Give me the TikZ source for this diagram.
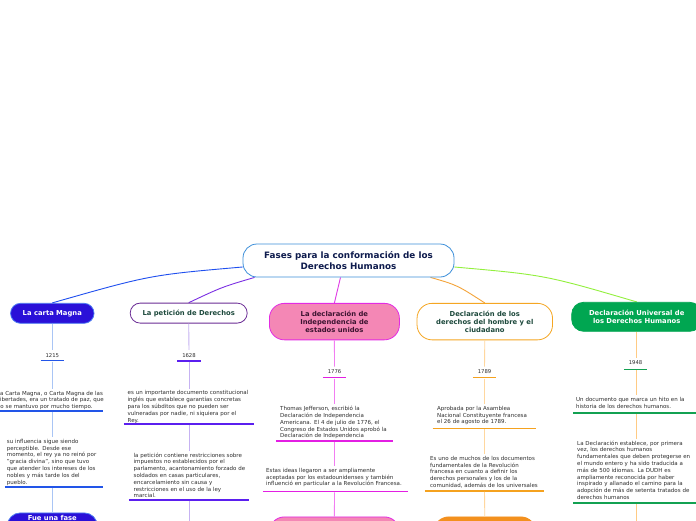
\documentclass[tikz,border=0pt]{standalone}
\usepackage{fontspec}
\setmainfont{DejaVu Sans}
\definecolor{rootBorder}{HTML}{3C8FDA}
\definecolor{rootText}{HTML}{0E1B4D}
\definecolor{cBlue}{HTML}{1F4FEF}
\definecolor{cartaFill}{HTML}{2A10D8}
\definecolor{cartaBorder}{HTML}{4B7BF2}
\definecolor{vBlue}{HTML}{A9C5F5}
\definecolor{bBlue}{HTML}{2255E8}
\definecolor{cPurple}{HTML}{7B2FE3}
\definecolor{petBorder}{HTML}{6B2C95}
\definecolor{darkGreen}{HTML}{1E4A3D}
\definecolor{vPurple}{HTML}{C6B2F2}
\definecolor{bPurple}{HTML}{5B1FEF}
\definecolor{cMagenta}{HTML}{E03BE6}
\definecolor{indFill}{HTML}{F487B5}
\definecolor{indBorder}{HTML}{E32BE3}
\definecolor{indText}{HTML}{3D1431}
\definecolor{vMagenta}{HTML}{F27DF2}
\definecolor{bMagenta}{HTML}{E31FE3}
\definecolor{cOrange}{HTML}{F4A43A}
\definecolor{homBorder}{HTML}{F5A623}
\definecolor{vOrange}{HTML}{FFD79E}
\definecolor{bOrange}{HTML}{F5A21F}
\definecolor{orangeFill}{HTML}{F3901E}
\definecolor{cGreen}{HTML}{93F03E}
\definecolor{uniFill}{HTML}{00A651}
\definecolor{bGreen}{HTML}{13A152}
\definecolor{vOrange2}{HTML}{FFCB84}
\definecolor{txtGray}{HTML}{2E2E2E}
\pgfdeclarelayer{bg}
\pgfsetlayers{bg,main}
\begin{document}
\begin{tikzpicture}[x=1pt,y=-1pt,
  hdr/.style={align=center, inner sep=0pt, line width=0.8pt,
    font=\fontsize{6.8}{7.9}\selectfont\bfseries},
  blk/.style={anchor=north west, inner xsep=0pt, inner ysep=2pt,
    text width=165pt, align=left, text=txtGray,
    font=\fontsize{5.5}{6.8}\selectfont},
  yr/.style={anchor=base, inner xsep=0pt, inner ysep=3pt, text height=3.9pt,
    text depth=0pt, text=txtGray, font=\fontsize{5.3}{6}\selectfont},
  bar/.style={inner sep=0pt, minimum height=1.5pt, draw=none,
    append after command={\pgfextra{\draw[line width=1.5pt, #1]
      (\tikzlastnode.west) -- (\tikzlastnode.east);}}},
  conn/.style={line width=0.9pt},
  vline/.style={line width=0.9pt}
]
\useasboundingbox (0,0) rectangle (696,520);
\begin{pgfonlayer}{bg}
\fill[white] (0,0) rectangle (696,520);
\end{pgfonlayer}

% ---- root
\node[draw=rootBorder, fill=white, line width=0.8pt, rounded corners=14pt,
  minimum width=211pt, minimum height=33pt, align=center, inner sep=0pt,
  text=rootText, font=\fontsize{8.8}{11}\selectfont\bfseries]
  (root) at (348.5,260.5) {Fases para la conformación de los\\Derechos Humanos};

% ---- main branches
\node[hdr, draw=cartaBorder, fill=cartaFill, text=white, rounded corners=10pt,
  minimum width=83.5pt, minimum height=20pt] (carta) at (52.3,313.3) {La carta Magna};
\node[hdr, draw=petBorder, fill=white, text=darkGreen, rounded corners=10pt,
  minimum width=117pt, minimum height=20pt] (pet) at (188.7,313.1) {La petición de Derechos};
\node[hdr, draw=indBorder, fill=indFill, text=indText, rounded corners=15pt,
  minimum width=130pt, minimum height=36.5pt] (ind) at (334.4,321.6) {La declaración de\\Independencia de\\estados unidos};
\node[hdr, draw=homBorder, fill=white, text=darkGreen, rounded corners=15pt,
  minimum width=135.5pt, minimum height=36.5pt] (hom) at (484.8,321.6) {Declaración de los\\derechos del hombre y el\\ciudadano};
\node[hdr, draw=uniFill, fill=uniFill, text=white, rounded corners=12pt,
  minimum width=130pt, minimum height=29pt] (uni) at (636.7,316.8) {Declaración Universal de\\los Derechos Humanos};

% ---- connectors from root (behind the nodes)
\begin{pgfonlayer}{bg}
\draw[conn, cBlue] ([yshift=-6.5pt]root.west) .. controls (150,275) .. (carta.north);
\draw[conn, cPurple] ([xshift=12pt]root.south west) .. controls (222,287) .. (pet.north);
\draw[conn, cMagenta] ([xshift=-8pt]root.south) -- (ind.north);
\draw[conn, cOrange] ([xshift=82pt]root.south) .. controls (457,285) .. (hom.north);
\draw[conn, cGreen] ([yshift=-6.5pt]root.east) .. controls (545,275) .. (uni.north);
\end{pgfonlayer}

% ---- years
\node[yr] (y1) at (52.3,357) {1215};
\node[yr] (y2) at (189,357) {1628};
\node[yr] (y3) at (334.5,373.6) {1776};
\node[yr] (y4) at (484.5,373.6) {1789};
\node[yr] (y5) at (635.5,364.6) {1948};
\node[bar=bBlue, minimum width=23pt] (r1y) at (52.3,360.7) {};
\node[bar=bPurple, minimum width=23.5pt] (r2y) at (189,361) {};
\node[bar=bMagenta, minimum width=23pt] (r3y) at (334.5,377.7) {};
\node[bar=bOrange, minimum width=23pt] (r4y) at (484.5,377.7) {};
\node[bar=bGreen, minimum width=23pt] (r5y) at (635.5,369.3) {};

% ---- text blocks
\node[blk] (b11) at (-3.2,388.8) {La Carta Magna, o Carta Magna de las\\Libertades, era un tratado de paz, que\\no se mantuvo por mucho tiempo.};
\node[blk] (b12) at (6.7,437) {su influencia sigue siendo\\perceptible. Desde ese\\momento, el rey ya no reinó por\\"gracia divina", sino que tuvo\\que atender los intereses de los\\nobles y más tarde los del\\pueblo.};
\node[blk] (b21) at (127.5,388.5) {es un importante documento constitucional\\inglés que establece garantías concretas\\para los súbditos que no pueden ser\\vulneradas por nadie, ni siquiera por el\\Rey.};
\node[blk] (b22) at (133.5,450.5) {la petición contiene restricciones sobre\\impuestos no establecidos por el\\parlamento, acantonamiento forzado de\\soldados en casas particulares,\\encarcelamiento sin causa y\\restricciones en el uso de la ley\\marcial.};
\node[blk] (b31) at (280,404) {Thomas Jefferson, escribió la\\Declaración de Independencia\\Americana. El 4 de julio de 1776, el\\Congreso de Estados Unidos aprobó la\\Declaración de Independencia};
\node[blk] (b32) at (266,466) {Estas ideas llegaron a ser ampliamente\\aceptadas por los estadounidenses y también\\influenció en particular a la Revolución Francesa.};
\node[blk] (b41) at (437,404) {Aprobada por la Asamblea\\Nacional Constituyente francesa\\el 26 de agosto de 1789.};
\node[blk] (b42) at (430,454) {Es uno de muchos de los documentos\\fundamentales de la Revolución\\francesa en cuanto a definir los\\derechos personales y los de la\\comunidad, además de los universales};
\node[blk] (b51) at (576,395) {Un documento que marca un hito en la\\historia de los derechos humanos.};
\node[blk] (b52) at (577,438.5) {La Declaración establece, por primera\\vez, los derechos humanos\\fundamentales que deben protegerse en\\el mundo entero y ha sido traducida a\\más de 500 idiomas. La DUDH es\\ampliamente reconocida por haber\\inspirado y allanado el camino para la\\adopción de más de setenta tratados de\\derechos humanos};

% ---- underline bars
\node[bar=bBlue, minimum width=103pt] (r11) at (51.5,411) {};
\node[bar=bBlue, minimum width=98pt] (r12) at (54,487) {};
\node[bar=bPurple, minimum width=130pt] (r21) at (189,424) {};
\node[bar=bPurple, minimum width=120pt] (r22) at (189,500) {};
\node[bar=bMagenta, minimum width=117pt] (r31) at (334.5,441) {};
\node[bar=bMagenta, minimum width=145pt] (r32) at (335.5,491.5) {};
\node[bar=bOrange, minimum width=103.5pt] (r41) at (484.5,428.3) {};
\node[bar=bOrange, minimum width=119pt] (r42) at (484.5,491) {};
\node[bar=bGreen, minimum width=124pt] (r51) at (635.5,413) {};
\node[bar=bGreen, minimum width=124pt] (r52) at (635.5,503) {};

% ---- bottom nodes (cut by the frame)
\node[draw=cartaBorder, fill=cartaFill, text=white, line width=0.8pt, rounded corners=13pt,
  minimum width=90pt, anchor=north, inner ysep=2.5pt, text height=5pt, text depth=22pt,
  font=\fontsize{6.8}{7.9}\selectfont\bfseries] (fase) at (52.3,512.5) {Fue una fase};
\node[draw=indBorder, fill=indFill, line width=0.8pt, rounded corners=15pt,
  minimum width=130pt, minimum height=34pt, anchor=north] (ind2) at (334.4,516.5) {};
\node[draw=orangeFill, fill=orangeFill, line width=0.8pt, rounded corners=15pt,
  minimum width=102pt, minimum height=34pt, anchor=north] (hom2) at (484.8,516.5) {};
\coordinate (end2) at (189,525);
\coordinate (end5) at (636.7,525);

% ---- vertical connectors
\draw[vline, vBlue] (carta.south) -- (y1.north);
\draw[vline, vBlue] (r1y.south) -- (b11.north -| r1y);
\draw[vline, vBlue] (r11.south -| r1y) -- (b12.north -| r1y);
\draw[vline, vBlue] (r12.south -| r1y) -- (fase.north);

\draw[vline, vPurple] (pet.south) -- (y2.north);
\draw[vline, vPurple] (r2y.south) -- (b21.north -| r2y);
\draw[vline, vPurple] (r21.south) -- (b22.north -| r2y);
\draw[vline, vPurple] (r22.south) -- (end2);

\draw[vline, vMagenta] (ind.south) -- (y3.north);
\draw[vline, vMagenta] (r3y.south) -- (b31.north -| r3y);
\draw[vline, vMagenta] (r31.south) -- (b32.north -| r3y);
\draw[vline, vMagenta] (r32.south -| r3y) -- (ind2.north);

\draw[vline, vOrange] (hom.south) -- (y4.north);
\draw[vline, vOrange] (r4y.south) -- (b41.north -| r4y);
\draw[vline, vOrange] (r41.south) -- (b42.north -| r4y);
\draw[vline, vOrange] (r42.south) -- (hom2.north);

\draw[vline, vOrange2] (uni.south) -- (y5.north -| uni);
\draw[vline, vOrange2] (r5y.south -| uni) -- (b51.north -| uni);
\draw[vline, vOrange2] (r51.south -| uni) -- (b52.north -| uni);
\draw[vline, vOrange2] (r52.south -| uni) -- (end5);
\end{tikzpicture}
\end{document}
